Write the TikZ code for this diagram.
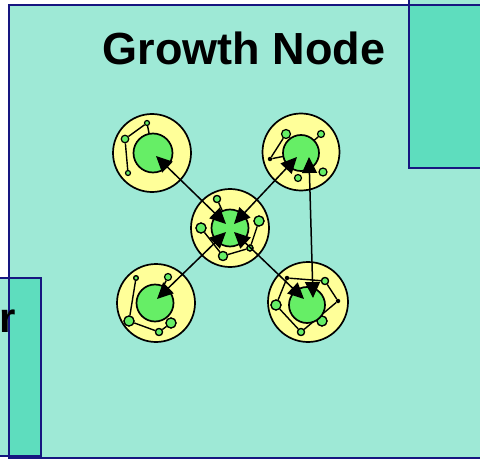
\documentclass[tikz,border=0pt]{standalone}
\usepackage{fontspec}
\setmainfont{Liberation Sans}
\usetikzlibrary{arrows.meta,calc}
\definecolor{boxlight}{HTML}{9EE9D6}
\definecolor{boxdark}{HTML}{5EDDBE}
\definecolor{boxline}{HTML}{161680}
\definecolor{cellyellow}{HTML}{FFFF99}
\definecolor{cellgreen}{HTML}{66EE66}
\tikzset{
  box/.style={fill=boxlight},
  overlap/.style={fill=boxdark},
  frame/.style={draw=boxline, line width=1.6},
  outer/.style={circle, fill=cellyellow, draw=black, line width=1.7, inner sep=0pt},
  core/.style={circle, fill=cellgreen, draw=black, line width=1.7, inner sep=0pt},
  sat/.style={circle, fill=cellgreen, draw=black, line width=1.2, inner sep=0pt},
  hub/.style={circle, fill=black, inner sep=0pt, minimum size=4.5},
  wire/.style={line width=1.4},
  link/.style={line width=1.5, {Triangle[length=16,width=15]}-{Triangle[length=16,width=15]}},
}
\begin{document}
\begin{tikzpicture}[x=1pt,y=-1pt]
\useasboundingbox (0,0) rectangle (480,460);

% panels: main one plus the two neighbours that overlap it
\fill[box] (9,5) rectangle (486,458);
\fill[box] (-6,278) rectangle (41,456);
\fill[box] (409,-6) rectangle (486,168);
\fill[overlap] (9,278) rectangle (41,456);
\fill[overlap] (409,5) rectangle (486,168);
\draw[frame] (486,5) -- (9,5) -- (9,458) -- (486,458);
\draw[frame] (-6,278) -- (41,278) -- (41,456) -- (-6,456);
\draw[frame] (409,-6) -- (409,168) -- (486,168);

\node[anchor=base east, font=\bfseries\fontsize{42}{42}\selectfont, inner sep=0pt] (nbr) at (16,332) {r};
\node[font=\bfseries\fontsize{45}{45}\selectfont, inner sep=0pt, anchor=base] (title) at (244,65) {Growth Node};

% --- top-left cell
\node[outer, minimum size=78] (o1) at (152,153) {};
\node[sat, minimum size=5] (a1) at (147,123) {};
\node[sat, minimum size=7.5] (a2) at (125,139) {};
\node[sat, minimum size=5] (a3) at (128,173) {};
\draw[wire] (a1) -- (153,153);
\draw[wire] (a2) -- (a1);
\draw[wire] (a2) -- (a3);
\node[core, minimum size=39] (c1) at (153,153) {};

% --- top-right cell
\node[outer, minimum size=77] (o2) at (301,152) {};
\node[hub] (b0) at (270,159) {};
\node[sat, minimum size=9] (b1) at (286,134) {};
\node[sat, minimum size=7] (b2) at (321,134) {};
\node[sat, minimum size=8] (b3) at (323,172) {};
\node[sat, minimum size=7] (b4) at (298,178) {};
\draw[wire] (b0) -- (b1);
\draw[wire] (b0) -- (301,153);
\draw[wire] (b2) -- (301,153);
\node[core, minimum size=36] (c2) at (301,153) {};

% --- centre cell
\node[outer, minimum size=78] (o3) at (230,228) {};
\node[sat, minimum size=7] (d1) at (217,199) {};
\node[sat, minimum size=10] (d2) at (201,228) {};
\node[sat, minimum size=10] (d3) at (259,221) {};
\node[sat, minimum size=6] (d4) at (250,248) {};
\node[sat, minimum size=9] (d5) at (223,256) {};
\draw[wire] (d1) -- (230,228);
\draw[wire] (d2) -- (d5);
\draw[wire] (d5) -- (d4);
\draw[wire] (d4) -- (d3);
\node[sat, minimum size=7] at (d1) {};
\node[sat, minimum size=10] at (d2) {};
\node[sat, minimum size=10] at (d3) {};
\node[sat, minimum size=6] at (d4) {};
\node[sat, minimum size=9] at (d5) {};
\node[core, minimum size=37] (c3) at (230,228) {};

% --- bottom-left cell
\node[outer, minimum size=78] (o4) at (156,303) {};
\node[sat, minimum size=4.5] (e1) at (136,278) {};
\node[sat, minimum size=7] (e2) at (168,277) {};
\node[sat, minimum size=10] (e3) at (129,321) {};
\node[sat, minimum size=10] (e4) at (171,323) {};
\node[sat, minimum size=7] (e5) at (159,332) {};
\draw[wire] (e1) -- (e3);
\draw[wire] (e3) -- (e5);
\draw[wire] (e5) -- (e4);
\draw[wire] (e2) -- (155,303);
\node[sat, minimum size=4.5] at (e1) {};
\node[sat, minimum size=10] at (e3) {};
\node[sat, minimum size=10] at (e4) {};
\node[sat, minimum size=7] at (e5) {};
\node[core, minimum size=37] (c4) at (155,303) {};

% --- bottom-right cell
\node[outer, minimum size=80] (o5) at (308,302) {};
\node[hub] (f0) at (287,278) {};
\node[sat, minimum size=10] (f1) at (276,305) {};
\node[sat, minimum size=7] (f2) at (325,281) {};
\node[hub] (f3) at (338,301) {};
\node[sat, minimum size=10] (f4) at (322,321) {};
\node[sat, minimum size=7] (f5) at (301,332) {};
\draw[wire] (f0) -- (f2);
\draw[wire] (f1) -- (f0);
\draw[wire] (f1) -- (f5);
\draw[wire] (f5) -- (f3);
\draw[wire] (f3) -- (f2);
\node[sat, minimum size=10] at (f1) {};
\node[sat, minimum size=7] at (f2) {};
\node[sat, minimum size=10] at (f4) {};
\node[sat, minimum size=7] at (f5) {};
\node[core, minimum size=36] (c5) at (307,305) {};

% arrow tips inside the cores
\coordinate (p1) at ($(c1.center)+(3,3)$);
\coordinate (q1) at ($(c3.center)+(-4,-4)$);
\coordinate (p2) at ($(c2.center)+(-4,4)$);
\coordinate (q2) at ($(c3.center)+(4,-4)$);
\coordinate (p4) at ($(c4.center)+(2,-4)$);
\coordinate (q4) at ($(c3.center)+(-4,4)$);
\coordinate (p5) at ($(c5.center)+(-3,-6)$);
\coordinate (q5) at ($(c3.center)+(4,4)$);
\coordinate (r2) at ($(c2.center)+(8,4)$);
\coordinate (r5) at ($(c5.center)+(6,-7)$);

% links between the cells
\draw[link] (q1) -- (p1);
\draw[link] (q2) -- (p2);
\draw[link] (q4) -- (p4);
\draw[link] (q5) -- (p5);
\draw[link] (r2) -- (r5);
\end{tikzpicture}
\end{document}
